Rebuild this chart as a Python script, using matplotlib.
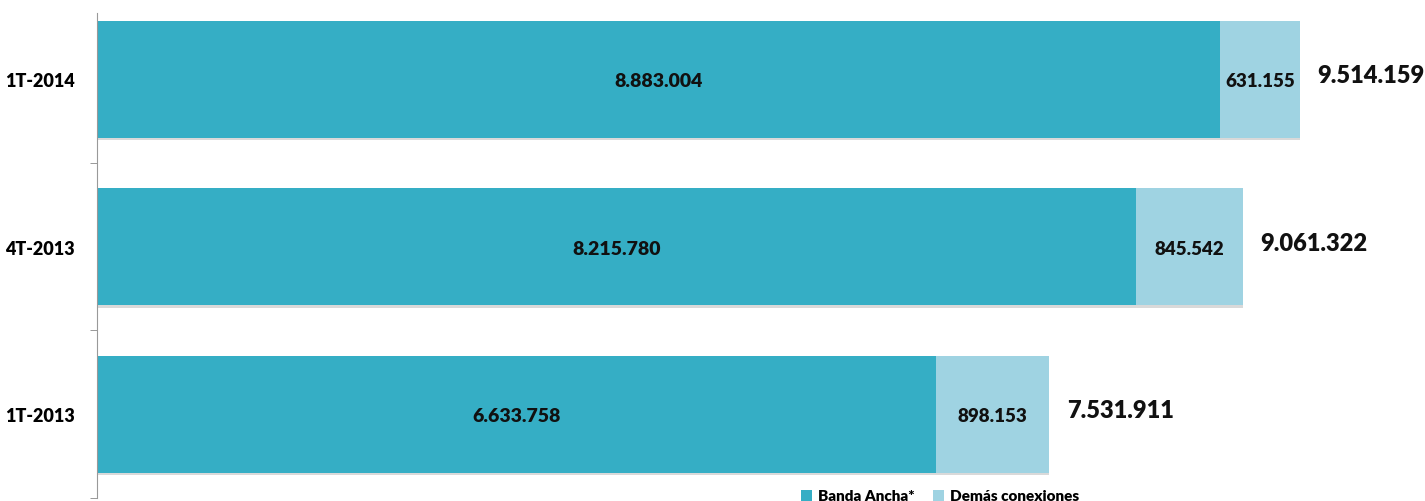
import numpy as np
import matplotlib.pyplot as plt

periodos = ["1T-2013", "4T-2013", "1T-2014"]
banda_ancha = [6633758, 8215780, 8883004]
demas = [898153, 845542, 631155]
totales = [7531911, 9061322, 9514159]

c_dark = "#35AEC5"
c_light = "#9FD3E2"

def fmt(v):
    return f"{v:,}".replace(",", ".")

plt.rcParams['font.family'] = ['Lato', 'DejaVu Sans']

fig = plt.figure(figsize=(14.25, 5.02), dpi=100)
ax = fig.add_axes([97 / 1425, 3 / 502, 1 - 97 / 1425, (499 - 14) / 502])

y = np.arange(len(periodos))
h = 0.70
# faint shadow under the bars
ax.barh(y - 0.015, totales, height=h, color="#d9d9d9", zorder=1)
b1 = ax.barh(y, banda_ancha, height=h, color=c_dark, label="Banda Ancha*", zorder=2)
b2 = ax.barh(y, demas, left=banda_ancha, height=h, color=c_light,
             label="Demás conexiones", zorder=2)

for i in range(len(periodos)):
    ax.text(banda_ancha[i] / 2, y[i] - 0.01, fmt(banda_ancha[i]), ha="center", va="center",
            fontsize=14, fontweight="heavy", color="#111111", zorder=3)
    ax.text(banda_ancha[i] + demas[i] / 2, y[i] - 0.01, fmt(demas[i]), ha="center", va="center",
            fontsize=13.5, fontweight="heavy", color="#111111", zorder=3)
    ax.text(totales[i] + 140000, y[i] + 0.025, fmt(totales[i]), ha="left", va="center",
            fontsize=17, fontweight="heavy", color="#111111", zorder=3)

ax.set_xlim(0, 10.503e6)
ax.set_ylim(-0.5, 2.395)
ax.set_yticks(y)
ax.set_yticklabels(periodos, fontsize=13, fontweight="heavy")
ax.set_yticks([0.5, 1.5, -0.5], minor=True)
ax.tick_params(axis="y", which="major", length=0, pad=16)
ax.tick_params(axis="y", which="minor", length=5, color="#888888")
ax.set_xticks([])
for s in ["top", "right", "bottom"]:
    ax.spines[s].set_visible(False)
ax.spines["left"].set_color("#999999")

fig.legend(handles=[b1, b2], loc="center", bbox_to_anchor=(940 / 1425, 5 / 502),
           ncol=2, frameon=False, handlelength=0.7, handleheight=0.7,
           columnspacing=1.2, handletextpad=0.4, prop={'weight': 'heavy', 'size': 11})

fig.savefig("out.png", dpi=100)
